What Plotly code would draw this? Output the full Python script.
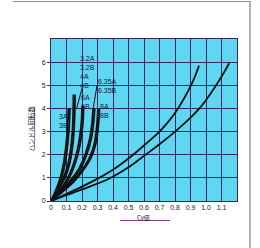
import plotly.graph_objects as go

# ---- data ----
x_3a = [0, 0.03, 0.06, 0.08, 0.095, 0.105, 0.11, 0.112]
y_3a = [0, 0.45, 1.0, 1.6, 2.3, 3.0, 3.6, 4.0]
x_3b = [0, 0.035, 0.068, 0.09, 0.105, 0.115, 0.12, 0.122]
y_3b = [0, 0.45, 1.0, 1.6, 2.3, 3.0, 3.6, 4.0]
x_32 = [0, 0.04, 0.08, 0.11, 0.128, 0.138, 0.143, 0.145]
y_32 = [0, 0.45, 1.0, 1.6, 2.3, 3.0, 3.8, 4.6]
x_4 = [0, 0.045, 0.09, 0.12, 0.138, 0.148, 0.153, 0.155]
y_4 = [0, 0.45, 1.0, 1.6, 2.3, 3.0, 3.8, 4.6]
x_6a = [0, 0.05, 0.1, 0.14, 0.17, 0.19, 0.198, 0.2]
y_6a = [0, 0.4, 0.9, 1.5, 2.2, 3.0, 3.6, 4.1]
x_6b = [0, 0.055, 0.11, 0.15, 0.18, 0.2, 0.208, 0.21]
y_6b = [0, 0.4, 0.9, 1.5, 2.2, 3.0, 3.6, 4.1]
x_635a = [0, 0.06, 0.12, 0.18, 0.22, 0.25, 0.265, 0.272]
y_635a = [0, 0.4, 0.85, 1.4, 2.0, 2.7, 3.4, 4.0]
x_635b = [0, 0.065, 0.13, 0.19, 0.23, 0.26, 0.275, 0.282]
y_635b = [0, 0.4, 0.85, 1.4, 2.0, 2.7, 3.4, 4.0]
x_8a = [0, 0.07, 0.14, 0.2, 0.25, 0.28, 0.295, 0.303]
y_8a = [0, 0.4, 0.85, 1.35, 1.9, 2.5, 3.2, 4.0]
x_8b = [0, 0.075, 0.15, 0.21, 0.26, 0.29, 0.305, 0.313]
y_8b = [0, 0.4, 0.85, 1.35, 1.9, 2.5, 3.2, 4.0]
x_10 = [0, 0.2, 0.316, 0.4, 0.51, 0.6, 0.7, 0.76, 0.81, 0.86, 0.9, 0.93, 0.955]
y_10 = [0, 0.62, 1.02, 1.35, 1.89, 2.4, 3.0, 3.45, 3.9, 4.45, 4.95, 5.4, 5.85]
x_12 = [0, 0.2, 0.37, 0.51, 0.6, 0.7, 0.81, 0.9, 0.97, 1.03, 1.08, 1.12, 1.15]
y_12 = [0, 0.5, 0.95, 1.5, 1.95, 2.45, 3.05, 3.6, 4.1, 4.65, 5.15, 5.6, 5.95]

x_ticks = [0, 0.1, 0.2, 0.3, 0.4, 0.5, 0.6, 0.7, 0.8, 0.9, 1.0, 1.1]
x_ticktext = ["0", "0.1", "0.2", "0.3", "0.4", "0.5", "0.6", "0.7", "0.8", "0.9", "1.0", "1.1"]
y_ticks = [0, 1, 2, 3, 4, 5, 6]

lbl_3 = "3A<br>3B"
lbl_4 = "3.2A<br>3.2B<br>4A<br>4B"
lbl_6 = "6A<br>6B"
lbl_635 = "6.35A<br>6.35B"
lbl_8 = "8A<br>8B"
lbl_10 = "9.52B<br>9.52C<br>10B<br>10C"
lbl_12 = "12B<br>12C<br>12.7B<br>12.7C"

y_title = "ハンドル回転数"
x_title = "Cv値"

# ---- figure ----
BG = "#5fd6f2"
GRID = "#35285e"
TXT = "#17163f"
FONT = "Liberation Sans"

fig = go.Figure()
curves = [(x_3a, y_3a), (x_3b, y_3b), (x_32, y_32), (x_4, y_4), (x_6a, y_6a),
          (x_6b, y_6b), (x_635a, y_635a), (x_635b, y_635b), (x_8a, y_8a),
          (x_8b, y_8b), (x_10, y_10), (x_12, y_12)]
for xs, ys in curves:
    fig.add_trace(go.Scatter(x=xs, y=ys, mode="lines",
                             line=dict(color="#111111", width=1.8, shape="spline", smoothing=0.8),
                             showlegend=False, hoverinfo="skip"))

ann_font = dict(family=FONT, size=7, color=TXT)
labels = [
    (lbl_3, 0.045, 3.85),
    (lbl_4, 0.18, 6.35),
    (lbl_635, 0.297, 5.36),
    (lbl_6, 0.19, 4.67),
    (lbl_8, 0.31, 4.28),
    (lbl_10, 0.91, 7.43),
    (lbl_12, 1.116, 7.43),
]
for txt, ax_, ay_ in labels:
    fig.add_annotation(x=ax_, y=ay_, xref="x", yref="y", text=txt, showarrow=False,
                       xanchor="left", yanchor="top", align="left", font=ann_font,
                       bgcolor="rgba(0,0,0,0)", borderpad=0)

# leader lines from labels to curve tops
fig.add_shape(type="line", xref="x", yref="y", x0=0.206, y0=5.0, x1=x_4[-1] + 0.01, y1=y_4[-1] - 0.6,
              line=dict(color="#111111", width=1))
fig.add_shape(type="line", xref="x", yref="y", x0=0.297, y0=5.0, x1=x_635a[-1], y1=y_635a[-1],
              line=dict(color="#111111", width=1))

# axis titles
L, R, T, B = 51, 23, 39, 47
W, H = 260, 248
pw, ph = W - L - R, H - T - B
def px(xp):
    return (xp - L) / pw
def py(yp):
    return (H - B - yp) / ph

fig.add_annotation(x=px(30), y=py(128.5), xref="paper", yref="paper", text=y_title,
                   showarrow=False, textangle=-90, xanchor="center", yanchor="middle",
                   font=dict(family="Noto Sans CJK JP", size=6.5, color=TXT))
fig.add_shape(type="line", xref="paper", yref="paper", x0=px(34.5), x1=px(34.5),
              y0=py(107), y1=py(150), line=dict(color="#8a8a8a", width=1.2))
fig.add_annotation(x=px(143), y=py(217), xref="paper", yref="paper", text=x_title,
                   showarrow=False, xanchor="center", yanchor="middle",
                   font=dict(family="Noto Sans CJK JP", size=6, color=TXT))
fig.add_shape(type="line", xref="paper", yref="paper", x0=px(120), x1=px(170),
              y0=py(220.5), y1=py(220.5), line=dict(color="#8a3c86", width=1))

# page frame lines
fig.add_shape(type="line", xref="paper", yref="paper", x0=px(13), x1=px(250),
              y0=py(1.5), y1=py(1.5), line=dict(color="#b07aa0", width=1.2))
fig.add_shape(type="line", xref="paper", yref="paper", x0=px(250), x1=px(250),
              y0=py(1), y1=py(248), line=dict(color="#9a9a9a", width=1.5))

fig.update_layout(
    width=W, height=H,
    margin=dict(l=L, r=R, t=T, b=B),
    paper_bgcolor="white", plot_bgcolor=BG,
    font=dict(family=FONT, size=7, color=TXT),
    xaxis=dict(range=[0, 1.2], tickvals=x_ticks, ticktext=x_ticktext, showgrid=True,
               gridcolor=GRID, gridwidth=1, zeroline=False, showline=True, linecolor=GRID,
               linewidth=1, mirror=True, ticks="",
               tickfont=dict(family=FONT, size=7, color=TXT), fixedrange=True),
    yaxis=dict(range=[0, 7], tickvals=y_ticks, showgrid=True, gridcolor=GRID, gridwidth=1,
               zeroline=False, showline=True, linecolor=GRID, linewidth=1, mirror=True,
               ticks="outside", ticklen=3, tickcolor=GRID,
               tickfont=dict(family=FONT, size=7, color=TXT), fixedrange=True),
)

fig.write_html("out.html")
